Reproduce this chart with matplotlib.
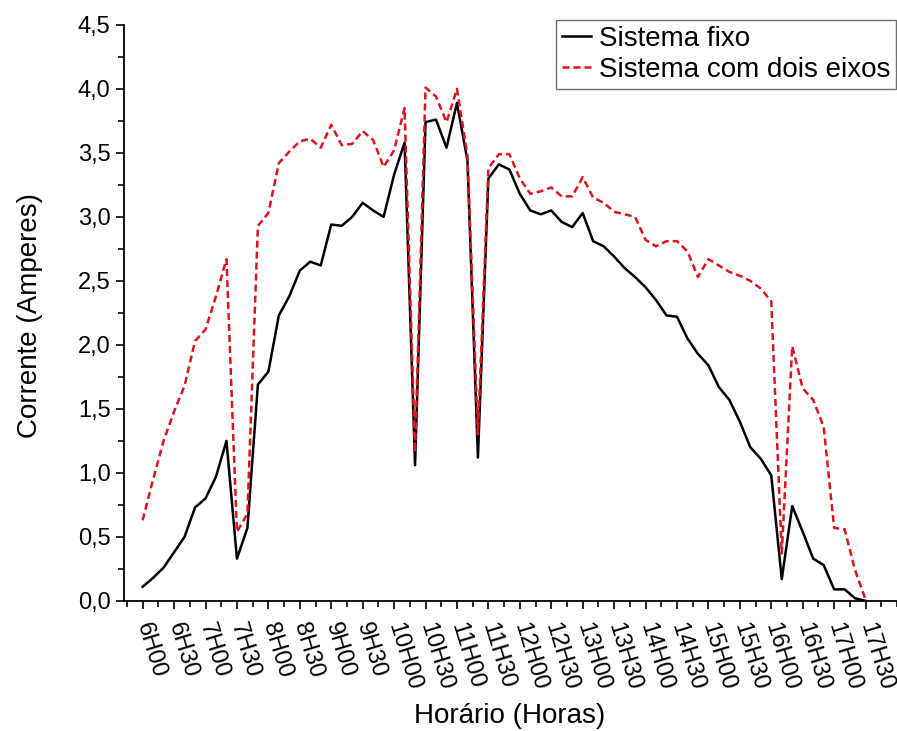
import numpy as np
import matplotlib
matplotlib.use('Agg')
import matplotlib.pyplot as plt
from matplotlib.ticker import MultipleLocator, FuncFormatter

plt.rcParams['font.family'] = ['Liberation Sans', 'DejaVu Sans']

# leituras a cada 10 minutos, a partir das 6H00 (tempo em minutos)
tempo_min = np.arange(0, 700, 10)

# corrente do sistema fixo (A)
fixo = [0.11, 0.18, 0.26, 0.38, 0.50, 0.73,
        0.80, 0.97, 1.25, 0.33, 0.57, 1.69,
        1.79, 2.23, 2.38, 2.58, 2.65, 2.62,
        2.94, 2.93, 3.00, 3.11, 3.05, 3.00,
        3.33, 3.58, 1.06, 3.74, 3.76, 3.54,
        3.89, 3.44, 1.12, 3.30, 3.41, 3.37,
        3.18, 3.05, 3.02, 3.05, 2.96, 2.92,
        3.03, 2.81, 2.77, 2.69, 2.60, 2.53,
        2.45, 2.35, 2.23, 2.22, 2.05, 1.93,
        1.84, 1.67, 1.57, 1.40, 1.20, 1.11,
        0.98, 0.17, 0.74, 0.54, 0.33, 0.28,
        0.09, 0.09, 0.02, 0.00]

# corrente do sistema com dois eixos (A)
dois_eixos = [0.63, 0.95, 1.25, 1.48, 1.68, 2.03,
              2.12, 2.38, 2.67, 0.54, 0.68, 2.93,
              3.03, 3.42, 3.51, 3.59, 3.61, 3.54,
              3.72, 3.56, 3.57, 3.67, 3.60, 3.39,
              3.52, 3.85, 1.16, 4.01, 3.94, 3.74,
              4.00, 3.48, 1.30, 3.38, 3.49, 3.49,
              3.30, 3.18, 3.20, 3.23, 3.16, 3.16,
              3.31, 3.15, 3.11, 3.04, 3.02, 3.00,
              2.82, 2.77, 2.81, 2.81, 2.73, 2.53,
              2.67, 2.62, 2.57, 2.54, 2.50, 2.44,
              2.34, 0.37, 1.99, 1.66, 1.57, 1.36,
              0.57, 0.56, 0.24, 0.01]

rotulos = ['6H00', '6H30', '7H00', '7H30', '8H00', '8H30', '9H00', '9H30',
           '10H00', '10H30', '11H00', '11H30', '12H00', '12H30', '13H00', '13H30',
           '14H00', '14H30', '15H00', '15H30', '16H00', '16H30', '17H00', '17H30']

fig = plt.figure(figsize=(8.97, 7.31), dpi=100)
ax = fig.add_axes([0.138, 0.178, 0.862, 0.788])

ax.plot(tempo_min, fixo, color='black', lw=1.8, label='Sistema fixo')
ax.plot(tempo_min, dois_eixos, color='#dc1420', lw=1.8, ls=(0, (2.8, 1.6)),
        label='Sistema com dois eixos')

ax.set_xlim(-18, 720)
ax.set_ylim(0, 4.5)

for s in ['top', 'right']:
    ax.spines[s].set_visible(False)
for s in ['left', 'bottom']:
    ax.spines[s].set_linewidth(1.3)

ax.set_xticks(np.arange(0, 700, 30))
ax.set_xticklabels(rotulos, rotation=-73, ha='left', va='center',
                   rotation_mode='anchor', fontsize=17)
ax.xaxis.set_minor_locator(MultipleLocator(15))
ax.yaxis.set_major_locator(MultipleLocator(0.5))
ax.yaxis.set_minor_locator(MultipleLocator(0.25))
ax.yaxis.set_major_formatter(FuncFormatter(lambda v, p: f'{v:.1f}'.replace('.', ',')))
ax.tick_params(axis='y', labelsize=17)
ax.tick_params(axis='x', pad=10)
ax.tick_params(which='major', direction='out', length=6, width=1.2)
ax.tick_params(which='minor', direction='out', length=4, width=1.2)

fig.text(30 / 897, 1 - 315 / 731, 'Corrente (Amperes)', rotation=90,
         ha='center', va='center', fontsize=20)
fig.text(510 / 897, 1 - 716 / 731, 'Horário (Horas)', ha='center', va='center',
         fontsize=20)

leg = ax.legend(loc='upper right', bbox_to_anchor=(896 / 897, 1 - 20 / 731),
                bbox_transform=fig.transFigure, borderaxespad=0, fontsize=20,
                handlelength=1.05, handletextpad=0.3, labelspacing=0.2,
                borderpad=0.2, fancybox=False, framealpha=1)
leg.get_frame().set_edgecolor('#707070')
leg.get_frame().set_linewidth(1.0)

fig.savefig('out.png', dpi=100)
